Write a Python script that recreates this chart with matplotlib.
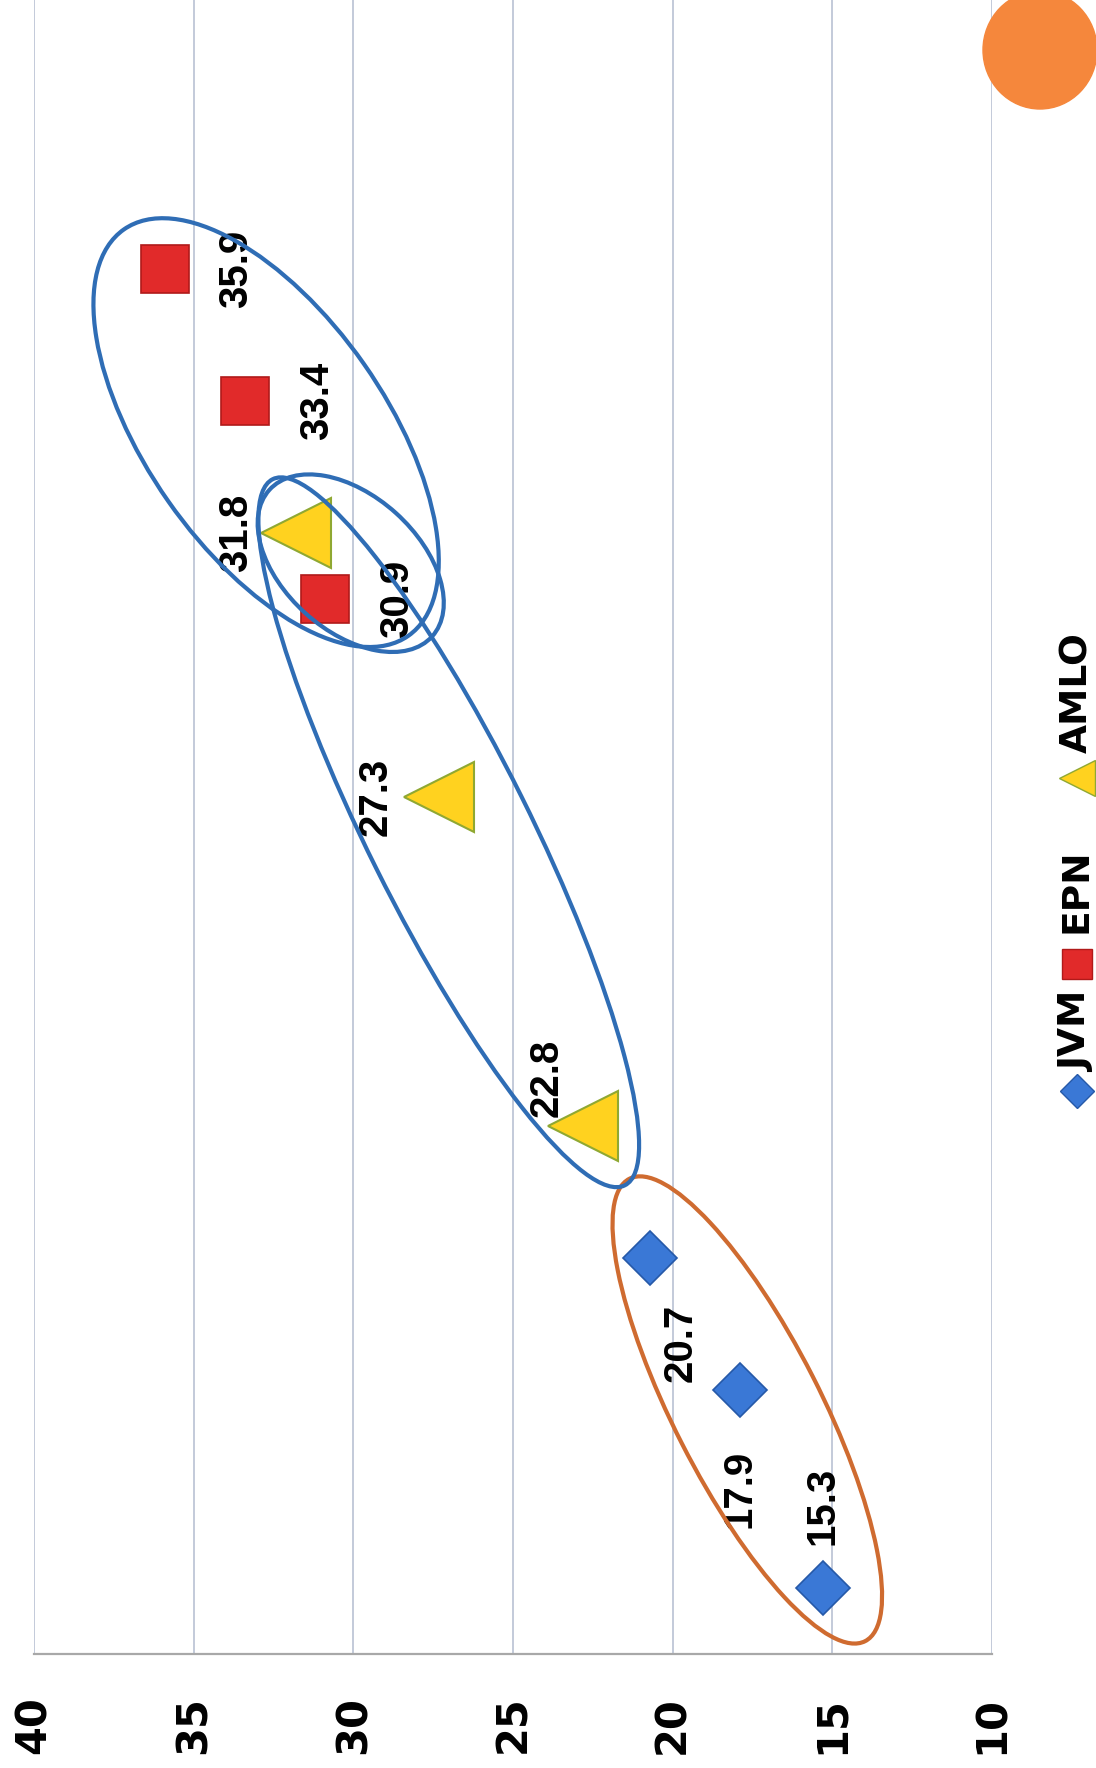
import matplotlib
matplotlib.use("Agg")
import matplotlib.pyplot as plt
from matplotlib.patches import Ellipse
from matplotlib.lines import Line2D
from matplotlib.transforms import ScaledTranslation

# poll results, chart is photographed turned on its side
series = ["JVM", "EPN", "AMLO"]
jvm_pos = [0.5, 2.0, 3.0]
jvm_vals = [15.3, 17.9, 20.7]
amlo_pos = [4.0, 6.5, 8.5]
amlo_vals = [22.8, 27.3, 31.8]
epn_pos = [8.0, 9.5, 10.5]
epn_vals = [30.9, 33.4, 35.9]
value_ticks = [40, 35, 30, 25, 20, 15, 10]

# label offsets in points (dx, dy) for each point of each series
jvm_off = [(0, 59), (0, -71), (22, -61)]
amlo_off = [(-26, 35), (-46, 0), (-43, 0)]
epn_off = [(52, 0), (52, 0), (51, 0)]

BLUE = "#2f6db5"
ORANGE = "#cf6b30"
LABEL_FONT = ["Liberation Sans", "DejaVu Sans"]


def main():
    fig = plt.figure(figsize=(10.96, 17.68), dpi=100)
    ax = fig.add_axes([0.031, 0.0645, 0.874, 0.9355])
    ax.set_xlim(40, 10)
    ax.set_ylim(0, 12.54)

    ax.set_xticks(value_ticks)
    ax.set_xticklabels([str(v) for v in value_ticks], rotation=90,
                       fontsize=30, fontweight="bold", family="DejaVu Sans")
    ax.tick_params(axis="x", length=0, pad=30)
    ax.set_yticks([])
    ax.grid(axis="x", color="#b3bccf", lw=1.1)
    ax.set_axisbelow(True)
    for s in ["left", "right", "top"]:
        ax.spines[s].set_visible(False)
    ax.spines["bottom"].set_color("#a8a8a8")
    ax.spines["bottom"].set_linewidth(1.6)

    ax.plot(jvm_vals, jvm_pos, ls="none", marker="D", ms=27,
            mfc="#3a78d6", mec="#2659a8", mew=1.2, zorder=4)
    ax.plot(epn_vals, epn_pos, ls="none", marker="s", ms=35,
            mfc="#e12a2a", mec="#b01a1a", mew=1.2, zorder=4)
    ax.plot(amlo_vals, amlo_pos, ls="none", marker="<", ms=50,
            mfc="#ffd21f", mec="#8fa832", mew=1.5, zorder=4)

    for vals, pos, offs in [(jvm_vals, jvm_pos, jvm_off),
                            (amlo_vals, amlo_pos, amlo_off),
                            (epn_vals, epn_pos, epn_off)]:
        for v, p, (dx, dy) in zip(vals, pos, offs):
            ax.annotate(f"{v:.1f}", (v, p), xytext=(dx, dy),
                        textcoords="offset points", rotation=90,
                        ha="center", va="center", fontsize=29,
                        fontweight="bold", family=LABEL_FONT, zorder=5)

    # hand-drawn ellipses (center in data, size in inches, angle on screen)
    ellipses = [
        ((17.66, 1.85), 5.19, 1.47, -63, ORANGE),
        ((27.01, 6.23), 7.89, 1.62, -63.5, BLUE),
        ((32.73, 9.26), 4.96, 2.39, -55, BLUE),
        ((30.08, 8.27), 2.19, 1.35, -42, BLUE),
    ]
    for (cx, cy), w, h, ang, col in ellipses:
        tr = fig.dpi_scale_trans + ScaledTranslation(cx, cy, ax.transData)
        ax.add_patch(Ellipse((0, 0), w, h, angle=ang, fill=False,
                             ec=col, lw=3.0, transform=tr, zorder=6,
                             clip_on=False))

    # orange dot in the corner
    fig.add_artist(Ellipse((1040 / 1096, 1 - 50 / 1768), 114 / 1096,
                           118 / 1768, transform=fig.transFigure,
                           color="#f5873c"))

    # legend, drawn by hand because it runs bottom to top
    lx = 1077 / 1096
    items = [
        ("JVM", "D", 17, "#3a78d6", "#2659a8", 1091, 1032),
        ("EPN", "s", 22, "#e12a2a", "#b01a1a", 964, 891),
        ("AMLO", "<", 26, "#ffd21f", "#8fa832", 778, 693),
    ]
    for name, mk, ms, fc, ec, my, ty in items:
        fig.add_artist(Line2D([lx], [1 - my / 1768], marker=mk, ms=ms,
                              mfc=fc, mec=ec, ls="none",
                              transform=fig.transFigure))
        fig.text(lx, 1 - ty / 1768, name, rotation=90, ha="center",
                 va="center", fontsize=27, fontweight="bold",
                 family="DejaVu Sans")

    fig.savefig("out.png", dpi=100, facecolor="white")


if __name__ == "__main__":
    main()
